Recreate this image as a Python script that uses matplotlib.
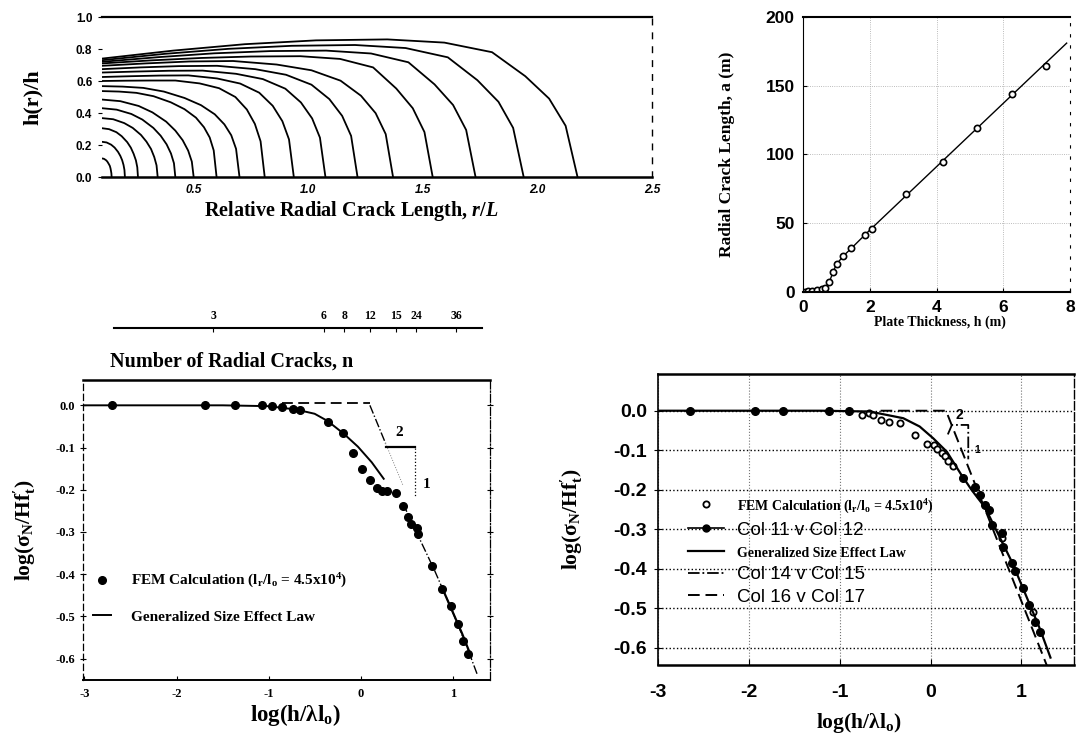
import matplotlib
matplotlib.use('Agg')
from matplotlib import pyplot as plt
from matplotlib.lines import Line2D

plt.rcParams['font.family'] = ['Liberation Serif', 'DejaVu Serif']
plt.rcParams['font.weight'] = 'bold'
plt.rcParams['axes.labelweight'] = 'bold'
plt.rcParams['mathtext.fontset'] = 'custom'
plt.rcParams['mathtext.rm'] = 'Liberation Serif:bold'
plt.rcParams['mathtext.it'] = 'Liberation Serif:italic:bold'
plt.rcParams['mathtext.default'] = 'regular'
plt.rcParams['axes.unicode_minus'] = False

SANS = ['Liberation Sans', 'DejaVu Sans']

# ---------------- top left: crack profiles h(r)/h vs r/L ----------------
crack_r = [
    [0.1, 0.108, 0.117, 0.123, 0.129, 0.134, 0.137, 0.139, 0.141, 0.142],
    [0.1, 0.12, 0.14, 0.155, 0.17, 0.18, 0.188, 0.194, 0.198, 0.2],
    [0.1, 0.131, 0.163, 0.186, 0.21, 0.226, 0.238, 0.248, 0.254, 0.257],
    [0.1, 0.149, 0.197, 0.234, 0.27, 0.294, 0.314, 0.328, 0.338, 0.343],
    [0.1, 0.164, 0.228, 0.276, 0.324, 0.356, 0.382, 0.401, 0.414, 0.42],
    [0.1, 0.18, 0.26, 0.32, 0.38, 0.42, 0.452, 0.476, 0.492, 0.5],
    [0.1, 0.175, 0.25, 0.325, 0.4, 0.46, 0.51, 0.545, 0.57, 0.5875, 0.6],
    [0.1, 0.19, 0.28, 0.37, 0.46, 0.532, 0.592, 0.634, 0.664, 0.685, 0.7],
    [0.1, 0.207, 0.313, 0.42, 0.526, 0.611, 0.682, 0.732, 0.767, 0.792, 0.81],
    [0.1, 0.226, 0.351, 0.477, 0.602, 0.703, 0.786, 0.845, 0.887, 0.916, 0.937],
    [0.1, 0.246, 0.393, 0.539, 0.685, 0.802, 0.9, 0.968, 1.017, 1.051, 1.075],
    [0.1, 0.267, 0.435, 0.602, 0.769, 0.903, 1.014, 1.092, 1.148, 1.187, 1.215],
    [0.1, 0.291, 0.481, 0.672, 0.862, 1.014, 1.141, 1.23, 1.294, 1.338, 1.37],
    [0.1, 0.316, 0.533, 0.749, 0.966, 1.139, 1.283, 1.384, 1.456, 1.507, 1.543],
    [0.1, 0.345, 0.589, 0.834, 1.078, 1.274, 1.437, 1.551, 1.632, 1.689, 1.73],
    [0.1, 0.376, 0.652, 0.928, 1.204, 1.425, 1.609, 1.738, 1.83, 1.894, 1.94],
    [0.1, 0.411, 0.723, 1.034, 1.345, 1.594, 1.802, 1.947, 2.051, 2.123, 2.175],
]
crack_h = [
    [0.116, 0.114, 0.106, 0.097, 0.083, 0.07, 0.055, 0.04, 0.023, 0.0],
    [0.22, 0.216, 0.202, 0.184, 0.157, 0.132, 0.105, 0.075, 0.044, 0.0],
    [0.305, 0.299, 0.28, 0.255, 0.218, 0.183, 0.145, 0.104, 0.061, 0.0],
    [0.368, 0.361, 0.337, 0.307, 0.263, 0.221, 0.175, 0.125, 0.073, 0.0],
    [0.43, 0.421, 0.394, 0.359, 0.307, 0.258, 0.204, 0.147, 0.086, 0.0],
    [0.484, 0.474, 0.444, 0.404, 0.346, 0.29, 0.23, 0.165, 0.096, 0.0],
    [0.537, 0.534, 0.526, 0.505, 0.467, 0.424, 0.371, 0.311, 0.247, 0.166, 0.0],
    [0.568, 0.565, 0.557, 0.534, 0.494, 0.449, 0.392, 0.329, 0.261, 0.176, 0.0],
    [0.6, 0.602, 0.603, 0.603, 0.585, 0.555, 0.5, 0.422, 0.332, 0.223, 0.0],
    [0.625, 0.63, 0.634, 0.635, 0.616, 0.584, 0.527, 0.445, 0.349, 0.235, 0.0],
    [0.653, 0.659, 0.664, 0.665, 0.645, 0.612, 0.552, 0.466, 0.366, 0.246, 0.0],
    [0.674, 0.685, 0.693, 0.695, 0.674, 0.639, 0.577, 0.487, 0.382, 0.257, 0.0],
    [0.695, 0.71, 0.722, 0.725, 0.703, 0.667, 0.602, 0.508, 0.399, 0.268, 0.0],
    [0.71, 0.729, 0.744, 0.753, 0.755, 0.738, 0.685, 0.553, 0.43, 0.281, 0.0],
    [0.72, 0.749, 0.773, 0.787, 0.79, 0.772, 0.717, 0.579, 0.45, 0.294, 0.0],
    [0.73, 0.77, 0.801, 0.82, 0.825, 0.806, 0.748, 0.605, 0.47, 0.307, 0.0],
    [0.74, 0.79, 0.83, 0.854, 0.86, 0.84, 0.78, 0.63, 0.49, 0.32, 0.0],
]

# ---------------- top right: crack length vs plate thickness ----------------
thick_h = [0.05, 0.15, 0.26, 0.41, 0.56, 0.66, 0.79, 0.91, 1.01, 1.19, 1.43,
           1.85, 2.07, 3.1, 4.18, 5.2, 6.25, 7.28]
crack_a = [0.3, 0.6, 0.9, 1.5, 2.0, 3.2, 7.5, 14.8, 20.4, 26.2, 31.8,
           41.7, 45.6, 71.0, 94.3, 119.0, 143.8, 164.4]
fit_h = [0, 0.3, 0.6, 0.7, 0.8, 0.9, 1.0, 1.2, 1.45, 2.0, 7.9]
fit_a = [0, 0.5, 1.5, 3, 8, 14.5, 20, 26, 31.8, 45, 181]

# ---------------- bottom left: size effect ----------------
fem_x = [-2.70, -1.69, -1.37, -1.07, -0.96, -0.85, -0.74, -0.66, -0.36, -0.196,
         -0.084, 0.009, 0.103, 0.178, 0.234, 0.29, 0.383, 0.458, 0.514, 0.551,
         0.607, 0.626, 0.776, 0.888, 0.981, 1.056, 1.112, 1.168]
fem_y = [0.0, 0.0, 0.0, 0.0, -0.002, -0.004, -0.008, -0.012, -0.039, -0.065,
         -0.114, -0.151, -0.177, -0.196, -0.202, -0.204, -0.208, -0.239, -0.265, -0.28,
         -0.29, -0.306, -0.38, -0.435, -0.476, -0.518, -0.559, -0.588]
law_x = [-3.0, -1.5, -1.0, -0.7, -0.5, -0.36, -0.18, -0.03, 0.12, 0.25]
law_y = [0.0, 0.0, -0.002, -0.01, -0.02, -0.037, -0.068, -0.098, -0.135, -0.174]
law_lo_x = [0.46, 0.55, 0.8, 1.0, 1.15, 1.27]
law_lo_y = [-0.233, -0.275, -0.39, -0.49, -0.57, -0.64]
law_solid_x = [0.9, 1.0, 1.1, 1.2]
law_solid_y = [-0.44, -0.49, -0.54, -0.595]
asym_flat_x = [-0.85, 0.10]
asym_flat_y = [0.006, 0.006]
asym_drop_x = [0.10, 0.27]
asym_drop_y = [0.0, -0.09]
asym_faint_x = [0.27, 0.46]
asym_faint_y = [-0.09, -0.19]
tri_top_x = [0.271, 0.589]
tri_top_y = [-0.098, -0.098]
tri_side_x = [0.589, 0.589]
tri_side_y = [-0.102, -0.216]

n_labels = ['3', '6', '8', '12', '15', '24', '36']
n_pos = [-1.598, -0.40, -0.178, 0.103, 0.383, 0.607, 1.037]

# ---------------- bottom right: replot ----------------
fem4_x = [-0.755, -0.68, -0.63, -0.547, -0.453, -0.335, -0.17, -0.04, 0.038, 0.07,
          0.124, 0.16, 0.197, 0.25, 0.79, 1.13]
fem4_y = [-0.010, -0.006, -0.011, -0.023, -0.028, -0.032, -0.062, -0.084, -0.088, -0.096,
          -0.108, -0.115, -0.128, -0.14, -0.323, -0.509]
col11_x = [-2.65, -1.93, -1.62, -1.12, -0.90, 0.358, 0.49, 0.546, 0.60, 0.64, 0.677,
           0.787, 0.80, 0.893, 0.93, 1.02, 1.08, 1.15, 1.2]
col12_y = [0.0, 0.0, 0.0, 0.0, 0.0, -0.171, -0.194, -0.213, -0.239, -0.251, -0.289,
           -0.31, -0.344, -0.386, -0.407, -0.449, -0.492, -0.534, -0.56]
law4_x = [-3.0, -1.2, -0.67, -0.3, -0.12, 0.03, 0.18, 0.33, 0.45, 0.6, 0.9, 1.2, 1.32]
law4_y = [0.0, 0.0, -0.002, -0.019, -0.04, -0.07, -0.104, -0.159, -0.2, -0.245, -0.385, -0.55, -0.625]
col14_x = [0.19, 0.235, 0.415, 0.415]
col15_y = [-0.06, -0.036, -0.036, -0.123]
col16_x = [-0.55, 0.17, 1.28]
col17_y = [0.0, 0.0, -0.645]

fig = plt.figure(figsize=(10.77, 7.36), dpi=100)

# ======== panel 1 ========
ax1 = fig.add_axes([0.0947, 0.7595, 0.5107, 0.2174])
for rr, hh in zip(crack_r, crack_h):
    ax1.plot(rr, hh, color='k', lw=1.3)
ax1.set_xlim(0.1, 2.5)
ax1.set_ylim(0, 1.0)
ax1.spines['left'].set_visible(False)
ax1.spines['top'].set_linewidth(1.6)
ax1.spines['bottom'].set_linewidth(1.8)
ax1.spines['right'].set_linestyle((0, (4, 6)))
ax1.spines['right'].set_linewidth(1.0)
ax1.set_xticks([0.5, 1.0, 1.5, 2.0, 2.5])
ax1.set_xticklabels(['0.5', '1.0', '1.5', '2.0', '2.5'], family=SANS, fontsize=8.5, style='italic')
ax1.set_yticks([0.0, 0.2, 0.4, 0.6, 0.8, 1.0])
ax1.set_yticklabels(['0.0', '0.2', '0.4', '0.6', '0.8', '1.0'], family=SANS, fontsize=8.5)
ax1.tick_params(axis='x', length=0, pad=5)
ax1.tick_params(axis='y', length=3, pad=4)
ax1.set_ylabel('h(r)/h', fontsize=16)
ax1.yaxis.set_label_coords(-0.107, 0.5)
ax1.set_xlabel('Relative Radial Crack Length, ' + r'$\it{r/L}$', fontsize=14.5)
ax1.xaxis.set_label_coords(0.453, -0.14)

# ======== panel 2 ========
ax2 = fig.add_axes([0.7456, 0.6033, 0.2479, 0.3736])
ax2.plot(fit_h, fit_a, color='k', lw=1.0)
ax2.plot(thick_h, crack_a, ls='none', marker='o', ms=4.5, mfc='white', mec='k', mew=1.2)
ax2.set_xlim(0, 8)
ax2.set_ylim(0, 200)
ax2.set_xticks([0, 2, 4, 6, 8])
ax2.set_yticks([0, 50, 100, 150, 200])
for lab in ax2.get_xticklabels() + ax2.get_yticklabels():
    lab.set_family(SANS)
    lab.set_fontsize(12.5)
ax2.tick_params(direction='in', length=3, pad=6)
ax2.grid(True, ls=':', color='0.65', lw=0.6)
ax2.spines['right'].set_linestyle((0, (2, 8)))
ax2.spines['right'].set_linewidth(0.8)
ax2.spines['top'].set_linewidth(1.5)
ax2.spines['bottom'].set_linewidth(1.5)
ax2.set_ylabel('Radial Crack Length, a (m)', fontsize=12.5)
ax2.yaxis.set_label_coords(-0.255, 0.5)
ax2.set_xlabel('Plate Thickness, h (m)', fontsize=10)
ax2.xaxis.set_label_coords(0.513, -0.085)

# ======== panel 3 ========
ax3 = fig.add_axes([0.0767, 0.0765, 0.3779, 0.4072])
fem_pts, = ax3.plot(fem_x, fem_y, ls='none', marker='o', ms=5.5, color='k')
law_line, = ax3.plot(law_x, law_y, color='k', lw=1.4)
ax3.plot(law_lo_x, law_lo_y, color='k', lw=1.0, ls='-.')
ax3.plot(law_solid_x, law_solid_y, color='k', lw=1.6)
ax3.plot(asym_flat_x, asym_flat_y, color='k', lw=1.3, ls=(0, (6, 3)))
ax3.plot(asym_drop_x, asym_drop_y, color='k', lw=1.0, ls='-.')
ax3.plot(asym_faint_x, asym_faint_y, color='0.5', lw=0.7, ls=':')
ax3.plot(tri_top_x, tri_top_y, color='k', lw=1.6)
ax3.plot(tri_side_x, tri_side_y, color='k', lw=0.9, ls=':')
ax3.text(0.42, -0.065, '2', fontsize=11, ha='center', va='center')
ax3.text(0.72, -0.188, '1', fontsize=11, ha='center', va='center')
ax3.set_xlim(-3.02, 1.40)
ax3.set_ylim(-0.65, 0.06)
ax3.set_xticks([-3, -2, -1, 0, 1])
ax3.set_xticklabels(['-3', '-2', '-1', '0', '1'], fontsize=9)
ax3.set_yticks([0.0, -0.1, -0.2, -0.3, -0.4, -0.5, -0.6])
ax3.set_yticklabels(['0.0', '-0.1', '-0.2', '-0.3', '-0.4', '-0.5', '-0.6'], fontsize=9)
ax3.tick_params(axis='y', direction='inout', length=5, right=True, pad=3)
ax3.tick_params(axis='x', direction='in', length=3, pad=6)
ax3.spines['top'].set_linewidth(1.8)
ax3.spines['bottom'].set_linewidth(1.4)
ax3.spines['left'].set_linestyle((0, (5, 3)))
ax3.spines['left'].set_linewidth(0.9)
ax3.spines['right'].set_linestyle('-.')
ax3.spines['right'].set_linewidth(0.9)
ax3.set_ylabel(r"log($\sigma_N$/Hf$_t^{\prime}$)", fontsize=15.5)
ax3.yaxis.set_label_coords(-0.11, 0.5)
ax3.set_xlabel(r'log(h/$\lambda$l$_o$)', fontsize=16.5)
ax3.xaxis.set_label_coords(0.522, -0.075)
ax3.legend([fem_pts, law_line],
           [r'FEM Calculation (l$_r$/l$_o$ = 4.5x10$^4$)', 'Generalized Size Effect Law'],
           loc='upper left', bbox_to_anchor=(0.0256, 0.36), frameon=False, numpoints=1,
           fontsize=11, handlelength=1.2, handletextpad=1.3, labelspacing=1.3,
           borderpad=0, borderaxespad=0)

# number of radial cracks scale above panel 3
ax_n = fig.add_axes([0.1055, 0.5543, 0.342, 0.0001])
ax_n.set_xlim(-2.68, 1.318)
ax_n.set_ylim(0, 1)
for side in ['left', 'right', 'bottom']:
    ax_n.spines[side].set_visible(False)
ax_n.spines['top'].set_linewidth(1.5)
ax_n.set_yticks([])
ax_n.xaxis.tick_top()
ax_n.set_xticks(n_pos)
ax_n.set_xticklabels(n_labels, fontsize=8.5)
ax_n.tick_params(axis='x', direction='in', length=3, pad=4)
fig.text(110 / 1077, 1 - 362 / 736, 'Number of Radial Cracks, n', fontsize=14.5,
         ha='left', va='center')

# ======== panel 4 ========
ax4 = fig.add_axes([0.611, 0.0958, 0.3863, 0.3966])
ax4.grid(True, axis='y', ls=':', color='k', lw=1.0)
ax4.grid(True, axis='x', ls=':', color='0.45', lw=0.8)
fem4, = ax4.plot(fem4_x, fem4_y, ls='none', marker='o', ms=4.5, mfc='white', mec='k', mew=1.3)
ax4.plot(col11_x, col12_y, ls='none', marker='o', ms=5.5, color='k')
law4, = ax4.plot(law4_x, law4_y, color='k', lw=1.6)
col14, = ax4.plot(col14_x, col15_y, color='k', lw=1.3, ls='-.')
col16, = ax4.plot(col16_x, col17_y, color='k', lw=1.4, ls=(0, (6, 3)))
ax4.text(0.32, -0.01, '2', family=SANS, fontsize=10, ha='center', va='center')
ax4.text(0.51, -0.10, '1', family=SANS, fontsize=7.5, ha='center', va='center')
ax4.set_xlim(-3, 1.58)
ax4.set_ylim(-0.645, 0.094)
ax4.set_xticks([-3, -2, -1, 0, 1])
ax4.set_yticks([0.0, -0.1, -0.2, -0.3, -0.4, -0.5, -0.6])
ax4.set_xticklabels(['-3', '-2', '-1', '0', '1'], family=SANS, fontsize=14)
ax4.set_yticklabels(['0.0', '-0.1', '-0.2', '-0.3', '-0.4', '-0.5', '-0.6'], family=SANS, fontsize=14)
ax4.tick_params(axis='y', direction='inout', length=6, pad=5)
ax4.tick_params(axis='x', direction='in', length=4, pad=13)
ax4.spines['top'].set_linewidth(1.8)
ax4.spines['bottom'].set_linewidth(1.8)
ax4.spines['left'].set_linewidth(1.2)
ax4.spines['right'].set_linestyle((0, (6, 2)))
ax4.spines['right'].set_linewidth(1.0)
ax4.set_ylabel(r"log($\sigma_N$/Hf$_t^{\prime}$)", fontsize=15.5)
ax4.yaxis.set_label_coords(-0.175, 0.5)
ax4.set_xlabel(r'log(h/$\lambda$l$_o$)', fontsize=15.5)
ax4.xaxis.set_label_coords(0.482, -0.155)

col11_handle = Line2D([], [], color='k', lw=1.2, marker='o', ms=5)
leg = ax4.legend([fem4, col11_handle, law4, col14, col16],
                 [r'FEM Calculation (l$_r$/l$_o$ = 4.5x10$^4$)', 'Col 11 v Col 12',
                  'Generalized Size Effect Law', 'Col 14 v Col 15', 'Col 16 v Col 17'],
                 loc='upper left', bbox_to_anchor=(0.072, 0.575), frameon=False, numpoints=1,
                 fontsize=13.5, handlelength=1.9, handletextpad=0.7, labelspacing=0.3,
                 borderpad=0, borderaxespad=0)
for i, t in enumerate(leg.get_texts()):
    if i in (0, 2):
        t.set_fontsize(10)
    else:
        t.set_family(SANS)
        t.set_fontweight('normal')

fig.savefig('out.png', dpi=100, facecolor='white')
